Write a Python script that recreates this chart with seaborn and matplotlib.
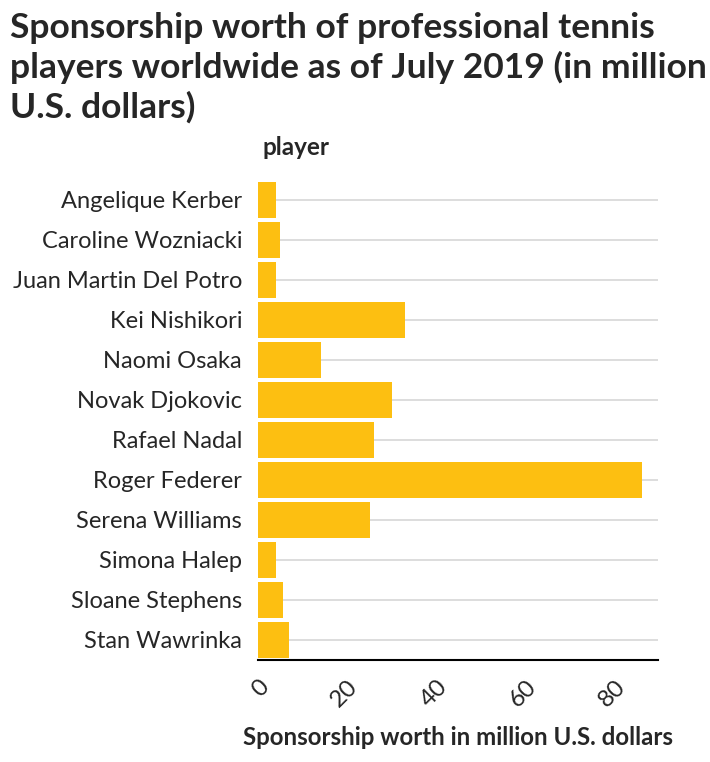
import pandas as pd
import matplotlib.pyplot as plt
import seaborn as sns

# Werte (Mio. US-Dollar)
players = ["Angelique Kerber", "Caroline Wozniacki", "Juan Martin Del Potro",
           "Kei Nishikori", "Naomi Osaka", "Novak Djokovic", "Rafael Nadal",
           "Roger Federer", "Serena Williams", "Simona Halep",
           "Sloane Stephens", "Stan Wawrinka"]
worth = [4, 5, 4, 33, 14, 30, 26, 86, 25, 4, 5.5, 7]
x_ticks = [0, 20, 40, 60, 80]

df = pd.DataFrame({"player": players, "worth": worth})

sns.set_theme(style="white")
plt.rcParams['font.family'] = ['Lato', 'DejaVu Sans']

fig = plt.figure(figsize=(7.1, 7.62), dpi=100)
ax = fig.add_axes([258 / 710, 102 / 762, 400 / 710, 480 / 762])

sns.barplot(data=df, x="worth", y="player", color="#fdbf11", width=0.9,
            saturation=1, linewidth=0, ax=ax, zorder=3)

# Gitterlinien erst nach dem Barplot setzen (seaborn schaltet sie sonst ab)
ax.yaxis.grid(True, color='#dddddd', linewidth=1.4, zorder=0)
ax.xaxis.grid(False)
ax.set_axisbelow(True)

ax.set_xlim(0, 89.6)
ax.set_xticks(x_ticks)
ax.tick_params(axis='x', length=6.5, width=1.2, color='black', pad=5, labelsize=17.5)
ax.tick_params(axis='y', length=0, pad=11.5, labelsize=17)
for lbl in ax.get_xticklabels():
    lbl.set_rotation(45)
    lbl.set_ha('right')
    lbl.set_rotation_mode('anchor')

for side in ['top', 'right', 'left']:
    ax.spines[side].set_visible(False)
ax.spines['bottom'].set_color('black')
ax.spines['bottom'].set_linewidth(1.5)

ax.set_xlabel("Sponsorship worth in million U.S. dollars", fontsize=17.3,
              fontweight='bold', labelpad=11)
ax.set_ylabel("player", fontsize=17.5, fontweight='bold', rotation=0,
              ha='left', va='center')
ax.yaxis.set_label_coords(0.0125, 1.067)

fig.text(10 / 710, 1 - 12 / 762,
         "Sponsorship worth of professional tennis\nplayers worldwide as of July 2019 (in million\nU.S. dollars)",
         fontsize=25.5, fontweight='bold', ha='left', va='top', linespacing=1.25)

fig.savefig("out.png", dpi=100)
plt.close(fig)
